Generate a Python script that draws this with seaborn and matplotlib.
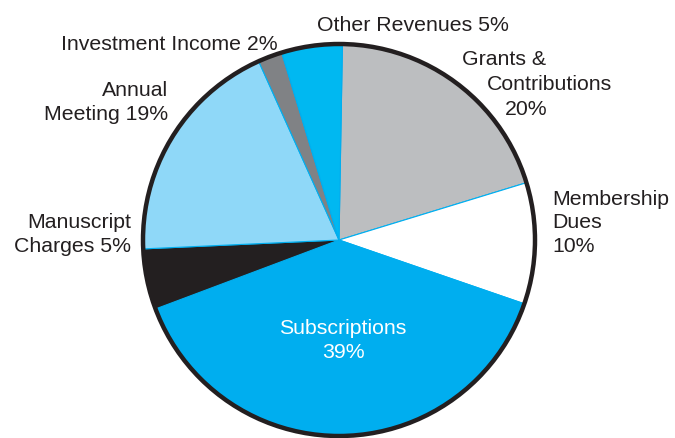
import matplotlib
matplotlib.use("Agg")
import matplotlib.pyplot as plt
import seaborn as sns
from matplotlib.patches import Circle

# revenue shares, clockwise from the top
categories = ["Grants & Contributions", "Membership Dues", "Subscriptions",
              "Manuscript Charges", "Annual Meeting", "Investment Income",
              "Other Revenues"]
shares = [20, 10, 39, 5, 19, 2, 5]
colors = ["#bcbec0", "#ffffff", "#00aeef", "#231f20", "#8fd8f8", "#808285", "#00b8f1"]

sns.set_theme(style="white")
plt.rcParams['font.family'] = ['Liberation Sans', 'DejaVu Sans']

fig = plt.figure(figsize=(6.75, 4.39), dpi=100)
ax = fig.add_axes([0, 0, 1, 1])

# work in pixel units, y measured from bottom
cx, cy, r = 339, 439 - 241, 196
ax.pie(shares, colors=colors, startangle=89, counterclock=False,
       center=(cx, cy), radius=r, frame=True,
       wedgeprops=dict(edgecolor="#00aeef", linewidth=0.8))
ax.add_patch(Circle((cx, cy), r, fill=False, edgecolor="#231f20", linewidth=3.2, zorder=5))

ax.set_xlim(0, 675)
ax.set_ylim(0, 439)
ax.set_aspect('auto')
ax.axis('off')

txt = dict(fontsize=15.3, color="#231f20", linespacing=1.3)

def img_y(y):
    return 439 - y

# baseline of the last line of each label
ax.text(413, img_y(31), "Other Revenues 5%", ha='center', va='baseline', **txt)
ax.text(278, img_y(50), "Investment Income 2%", ha='right', va='baseline', **txt)
ax.text(168, img_y(120), "Annual\nMeeting 19%", ha='right', va='baseline', ma='right', **txt)
ax.text(131, img_y(252), "Manuscript\nCharges 5%", ha='right', va='baseline', ma='right', **txt)
ax.text(552, img_y(252), "Membership\nDues\n10%", ha='left', va='baseline', ma='left', **txt)
ax.text(462, img_y(65), "Grants &", ha='left', va='baseline', **txt)
ax.text(487, img_y(90), "Contributions", ha='left', va='baseline', **txt)
ax.text(505, img_y(115), "20%", ha='left', va='baseline', **txt)
ax.text(343, img_y(358), "Subscriptions\n39%", ha='center', va='baseline', ma='center',
        **dict(txt, color="white"))

fig.savefig("out.png", dpi=100)
